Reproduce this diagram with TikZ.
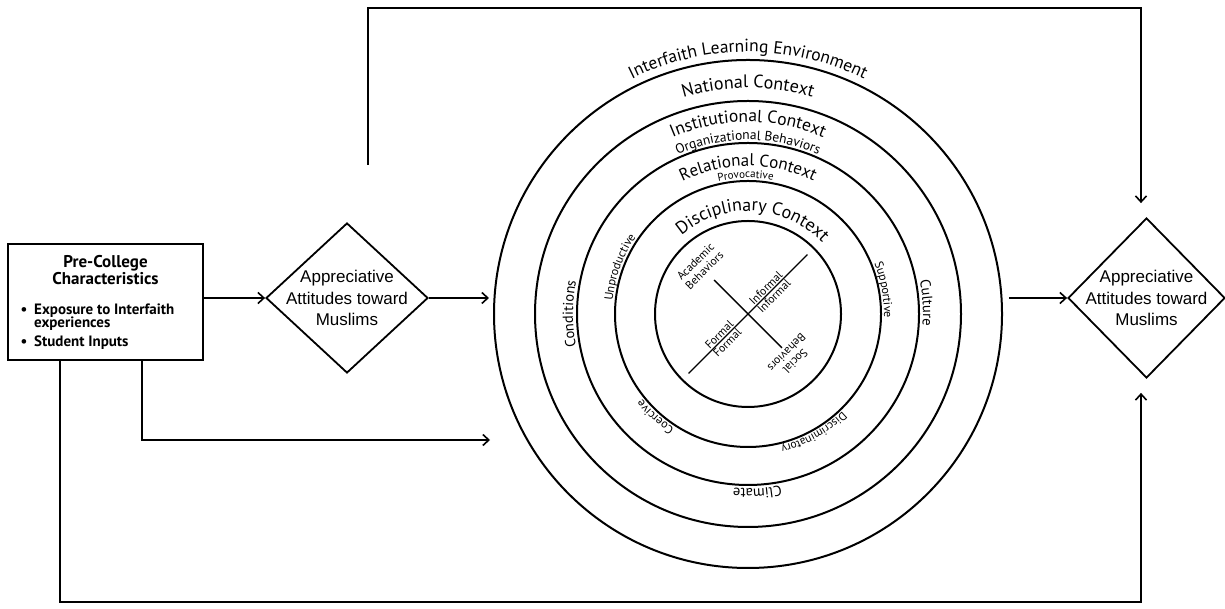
\documentclass[tikz,border=0pt]{standalone}
\usepackage{fontspec}
\newfontfamily\pts{PT Sans}
\newfontfamily\arl{Liberation Sans}
\usetikzlibrary{shapes.geometric,arrows.meta,decorations.text,calc}
\newcommand\ringtext[5]{%
  \path[decorate,decoration={text along path,text align=center,
    text={|\pts\fontsize{#4}{#4}\selectfont|#5}}]
    ($(C)+({#2+#3}:#1pt)$) arc[start angle={#2+#3}, end angle={#2-#3}, radius=#1pt];}
\begin{document}
\begin{tikzpicture}[x=1pt,y=1pt,
  conn/.style={line width=1.7pt},
  arr/.style={conn,-{Straight Barb[length=6pt,width=11pt,line width=1.6pt]}},
  ring/.style={line width=2pt},
  dia/.style={diamond, draw, line width=1.8pt, inner sep=0pt},
  diatext/.style={font=\arl\fontsize{17}{21.5}\selectfont, align=center, inner sep=0pt},
  ctext/.style={font=\pts\fontsize{11.5}{11.5}\selectfont, inner sep=1.5pt},
  btext/.style={font=\pts\bfseries\fontsize{15}{15}\selectfont, inner sep=0pt}]
\useasboundingbox (0,0) rectangle (1225,609);
\fill[white] (0,0) rectangle (1225,609);
\coordinate (C) at (748,295);
% rings
\node[circle, draw, ring, minimum size=508pt, inner sep=0pt] (env) at (C) {};
\foreach \r in {93,133,171,213} \draw[ring] (C) circle[radius=\r pt];
% ring labels
\ringtext{262}{90}{70}{17.5}{Interfaith Learning Environment}
\ringtext{226}{90}{70}{18}{National Context}
\ringtext{192}{90}{70}{17.5}{Institutional Context}
\ringtext{174}{90}{70}{13.5}{Organizational Behaviors}
\ringtext{148}{90}{70}{17}{Relational Context}
\ringtext{136}{91}{60}{11}{Provocative}
\ringtext{103}{87}{80}{18}{Disciplinary Context}
\ringtext{175}{180}{50}{14.5}{Conditions}
\ringtext{175}{3.5}{50}{14.5}{Culture}
\ringtext{175}{273}{50}{14.5}{Climate}
\ringtext{136}{160}{50}{12}{Unproductive}
\ringtext{136}{10}{50}{12}{Supportive}
\ringtext{136}{299}{50}{11.5}{Discriminatory}
\ringtext{136}{228}{50}{12}{Coercive}
% center cross
\draw[conn,line width=1.4pt] ($(C)+(225:84pt)$) -- ($(C)+(45:84pt)$);
\draw[conn,line width=1.4pt] ($(C)+(135:48pt)$) -- ($(C)+(-45:48pt)$);
\node[ctext, rotate=45, anchor=south] (inf1) at ($(C)+(45:31pt)$) {Informal};
\node[ctext, rotate=45, anchor=north] (inf2) at ($(C)+(45:31pt)$) {Informal};
\node[ctext, rotate=45, anchor=south] (for1) at ($(C)+(225:35pt)$) {Formal};
\node[ctext, rotate=45, anchor=north] (for2) at ($(C)+(225:35pt)$) {Formal};
\node[ctext, rotate=45, align=center, font=\pts\fontsize{11.5}{12.5}\selectfont] (acad) at ($(C)+(135:68pt)$) {Academic\\Behaviors};
\node[ctext, rotate=225, align=center, font=\pts\fontsize{11.5}{12.5}\selectfont] (soc) at ($(C)+(-45:61pt)$) {Social\\Behaviors};
% diamonds
\node[dia, minimum width=162pt, minimum height=150pt] (ld) at (347,311) {};
\node[diatext] (ldt) at (ld) {Appreciative\\Attitudes toward\\Muslims};
\node[dia, minimum width=157pt, minimum height=160pt] (rd) at (1146.5,311) {};
\node[diatext] (rdt) at (rd) {Appreciative\\Attitudes toward\\Muslims};
% box
\node[draw, line width=2.2pt, minimum width=195pt, minimum height=116pt, inner sep=0pt] (box) at (105.5,307) {};
\node[font=\pts\bfseries\fontsize{17}{15.5}\selectfont, align=center, inner sep=0pt] (title) at (105.5,339) {Pre-College\\Characteristics};
\node[btext, anchor=base west] (e1) at (34,294) {Exposure to Interfaith};
\node[btext, anchor=base west] (e2) at (34,281) {experiences};
\node[btext, anchor=base west] (s1) at (34,262) {Student Inputs};
\node[btext, anchor=base] (d1) at (24,294) {\textbullet};
\node[btext, anchor=base] (d2) at (24,262) {\textbullet};
% connectors
\draw[arr] (box.east |- ld.west) -- (ld.west);
\draw[arr] (ld.east) -- ($(env.west |- ld.east)+(-4,0)$);
\draw[arr] ($(env.east |- rd.west)+(6,0)$) -- (rd.west);
\coordinate (tl) at (368,444);
\coordinate (tr) at (1141,601);
\draw[arr] (tl) |- (tr) -- ($(rd.north -| tr)+(0,14)$);
\coordinate (b0) at (60,7);
\coordinate (b1) at (1141,7);
\draw[arr] (box.south -| b0) -- (b0) -- (b1) -- ($(rd.south -| b1)+(0,-14)$);
\coordinate (m0) at (142,169);
\coordinate (m1) at (490,169);
\draw[arr] (box.south -| m0) |- (m1);
\end{tikzpicture}
\end{document}
